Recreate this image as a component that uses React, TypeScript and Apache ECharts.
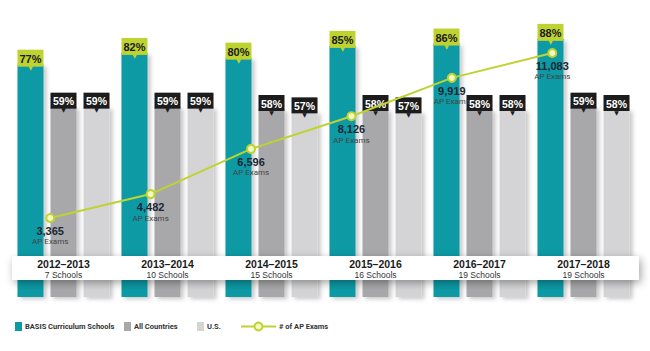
import React, { useEffect, useRef } from "react";
import * as echarts from "echarts";

const years = ["2012–2013", "2013–2014", "2014–2015", "2015–2016", "2016–2017", "2017–2018"];
const schools = ["7 Schools", "10 Schools", "15 Schools", "16 Schools", "19 Schools", "19 Schools"];
const basisPct = [77, 82, 80, 85, 86, 88];
const allCountriesPct = [59, 59, 58, 58, 58, 59];
const usPct = [59, 59, 57, 57, 58, 58];
const apExams = [3365, 4482, 6596, 8126, 9919, 11083];

const TEAL = "#0c9aa5";
const GRAY = "#a8a8aa";
const LIGHT = "#d4d4d6";
const LIME = "#bfd330";
const TAG = "#1c1c1c";
const SANS = "'Liberation Sans', Arial, Helvetica, sans-serif";
const LEG = "Roboto, 'Liberation Sans', sans-serif";

const barShadow = {
  shadowBlur: 4,
  shadowOffsetX: 3,
  shadowOffsetY: 2,
  shadowColor: "rgba(0,0,0,0.22)",
};

function tagLabel(bg: string, fg: string, size: number, pad: number[]) {
  return {
    show: true,
    position: "top",
    distance: -4,
    formatter: (p: any) => `{v|${p.value}%}\n{p|▼}`,
    rich: {
      v: {
        backgroundColor: bg,
        color: fg,
        fontFamily: SANS,
        fontWeight: "bold",
        fontSize: size,
        lineHeight: size + 2,
        width: 26,
        align: "center",
        padding: pad,
      },
      p: {
        color: bg,
        fontFamily: "'DejaVu Sans', sans-serif",
        fontSize: 6,
        lineHeight: 4,
        align: "center",
        verticalAlign: "top",
      },
    },
  };
}

export default function App() {
  const ref = useRef<HTMLDivElement>(null);
  useEffect(() => {
    if (!ref.current) return;
    const chart = echarts.init(ref.current, undefined, { renderer: "svg" });
    const legendText = {
      fontFamily: LEG,
      fontSize: 7.5,
      fontWeight: "bold",
      color: "#333",
      padding: [0, 0, 0, -2],
    };
    chart.setOption({
      animation: false,
      backgroundColor: "#fff",
      textStyle: { fontFamily: SANS },
      grid: [
        { left: 11.5, right: 14.5, top: 10.7, bottom: 54 },
        { left: -21.5, right: 47.5, top: 12, bottom: 61.1 },
      ],
      xAxis: [
        {
          gridIndex: 0,
          type: "category",
          data: years,
          z: 60,
          axisLine: { show: false },
          axisTick: { show: false },
          axisLabel: {
            margin: -39,
            interval: 0,
            formatter: (v: string, i: number) => `{y|${v}}\n{s|${schools[i]}}`,
            rich: {
              y: { fontFamily: SANS, fontSize: 10.5, fontWeight: "bold", color: "#1a1a1a", lineHeight: 12, align: "center" },
              s: { fontFamily: SANS, fontSize: 8.5, color: "#333", lineHeight: 9, align: "center" },
            },
          },
        },
        { gridIndex: 1, type: "category", data: years, show: false },
      ],
      yAxis: [
        { gridIndex: 0, type: "value", min: -22, max: 100, startValue: -22, show: false, splitLine: { show: false } },
        { gridIndex: 1, type: "value", min: 0, max: 13000, show: false, splitLine: { show: false } },
      ],
      legend: [
        { data: ["BASIS Curriculum Schools"], left: 15, top: 322, padding: 0, icon: "rect", itemWidth: 7, itemHeight: 9, textStyle: legendText },
        { data: ["All Countries"], left: 124, top: 322, padding: 0, icon: "rect", itemWidth: 7, itemHeight: 9, textStyle: legendText },
        { data: ["U.S."], left: 197, top: 322, padding: 0, icon: "rect", itemWidth: 7, itemHeight: 9, textStyle: legendText },
        { data: ["# of AP Exams"], left: 240, top: 321.5, padding: 0, itemWidth: 35, itemHeight: 10, textStyle: legendText },
      ],
      graphic: [
        {
          type: "rect",
          z: 50,
          shape: { x: 12, y: 256, width: 627, height: 24 },
          style: {
            fill: "#ffffff",
            shadowBlur: 8,
            shadowOffsetX: 2,
            shadowOffsetY: 3,
            shadowColor: "rgba(0,0,0,0.35)",
          },
        },
      ],
      series: [
        {
          type: "bar",
          name: "BASIS Curriculum Schools",
          xAxisIndex: 0,
          yAxisIndex: 0,
          data: basisPct,
          barWidth: 26,
          barGap: "27%",
          itemStyle: { color: TEAL, ...barShadow },
          label: tagLabel(LIME, "#1a1a1a", 11, [4, 0, 2, 0]),
        },
        {
          type: "bar",
          name: "All Countries",
          xAxisIndex: 0,
          yAxisIndex: 0,
          data: allCountriesPct,
          barWidth: 26,
          barGap: "27%",
          itemStyle: { color: GRAY, ...barShadow },
          label: tagLabel(TAG, "#ffffff", 10.5, [3, 0, 2, 0]),
        },
        {
          type: "bar",
          name: "U.S.",
          xAxisIndex: 0,
          yAxisIndex: 0,
          data: usPct,
          barWidth: 26,
          barGap: "27%",
          itemStyle: { color: LIGHT, ...barShadow },
          label: tagLabel(TAG, "#ffffff", 10.5, [3, 0, 2, 0]),
        },
        {
          type: "line",
          name: "# of AP Exams",
          xAxisIndex: 1,
          yAxisIndex: 1,
          data: apExams,
          z: 10,
          symbol: "circle",
          symbolSize: 8,
          lineStyle: { color: LIME, width: 2 },
          itemStyle: { color: "#f3f7c4", borderColor: LIME, borderWidth: 2 },
          label: {
            show: true,
            position: "bottom",
            distance: 2,
            formatter: (p: any) => `{n|${Number(p.value).toLocaleString("en-US")}}\n{t|AP Exams}`,
            rich: {
              n: { fontFamily: SANS, fontSize: 11, fontWeight: "bold", color: "#1b2733", lineHeight: 12, align: "center" },
              t: { fontFamily: LEG, fontSize: 8, color: "#444", lineHeight: 10, align: "center" },
            },
          },
        },
      ],
    });
    return () => chart.dispose();
  }, []);
  return (
    <div
      ref={ref}
      style={{ position: "fixed", left: 0, top: 0, width: 650, height: 351, background: "#fff" }}
    />
  );
}
